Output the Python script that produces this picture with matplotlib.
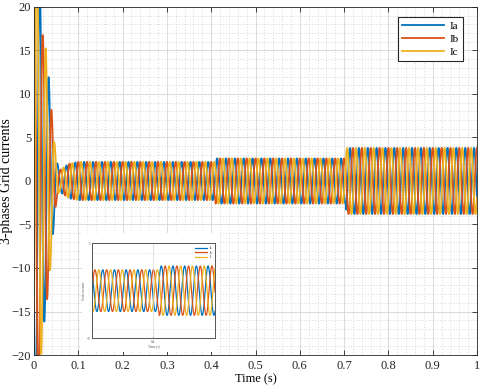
import numpy as np
import matplotlib
matplotlib.use('Agg')
import matplotlib.pyplot as plt
from matplotlib.patches import Rectangle
from matplotlib.ticker import MultipleLocator

plt.rcParams['font.family'] = ['Liberation Serif', 'DejaVu Serif']

f_grid = 50.0
phase_names = ['Ia', 'Ib', 'Ic']
phase_colors = ['#0072BD', '#D95319', '#EDB120']
phase_shift = [2 * np.pi / 3, 0.0, -2 * np.pi / 3]

# envelope of the current peaks (time in s, amplitude in A)
env_t = [0.0, 0.010, 0.020, 0.025, 0.030, 0.036, 0.043, 0.050, 0.057, 0.065, 0.080, 0.100,
         0.409, 0.410, 0.704, 0.705, 1.0]
env_a = [30.0, 26.0, 16.5, 16.0, 13.5, 10.5, 6.0, 2.6, 1.2, 1.5, 2.0, 2.2,
         2.2, 2.6, 2.6, 3.8, 3.8]

t = np.arange(0, 1.0001, 0.0002)
amp = np.interp(t, env_t, env_a)
currents = [amp * np.cos(2 * np.pi * f_grid * t + ph) for ph in phase_shift]

fig = plt.figure(figsize=(4.8, 3.86), dpi=100)
ax = fig.add_axes([0.0708, 0.0803, 0.923, 0.9016])
for y, c, n in zip(currents, phase_colors, phase_names):
    ax.plot(t, y, color=c, lw=1.3, label=n)

ax.set_xlim(0, 1)
ax.set_ylim(-20, 20)
ax.xaxis.set_major_locator(MultipleLocator(0.1))
ax.xaxis.set_minor_locator(MultipleLocator(0.02))
ax.yaxis.set_major_locator(MultipleLocator(5))
ax.yaxis.set_minor_locator(MultipleLocator(1))
ax.set_xticks(np.arange(0, 1.01, 0.1))
ax.set_xticklabels(['0', '0.1', '0.2', '0.3', '0.4', '0.5', '0.6', '0.7', '0.8', '0.9', '1'])
ax.tick_params(which='both', direction='in', top=True, right=True, labelsize=9, colors='#262626')
ax.tick_params(axis='y', pad=2)
ax.tick_params(which='major', length=3.5, width=0.6)
ax.tick_params(which='minor', length=0)
ax.grid(which='major', color='#d6d6d6', lw=0.6, ls='-')
ax.grid(which='minor', color='#b5b5b5', lw=0.5, ls=(0, (1, 3)))
ax.set_axisbelow(True)
for s in ax.spines.values():
    s.set_color('#262626')
    s.set_linewidth(0.6)
ax.set_xlabel('Time (s)', fontsize=9, labelpad=1)
ax.set_ylabel('3-phases Grid currents', fontsize=10)
ax.yaxis.set_label_coords(-0.047, 0.5)

leg = ax.legend(loc='upper right', bbox_to_anchor=(0.968, 0.971), borderaxespad=0,
                fancybox=False, edgecolor='#262626', fontsize=8, handlelength=3.8,
                labelspacing=0.3, borderpad=0.35, handletextpad=0.5, framealpha=1)
leg.get_frame().set_linewidth(0.8)

# white pad behind the zoomed inset
bg = Rectangle((0.171, 0.088), 0.287, 0.308, transform=fig.transFigure,
               facecolor='white', edgecolor='none', zorder=1.5)
fig.add_artist(bg)

axi = fig.add_axes([0.1917, 0.124, 0.256, 0.246])
axi.set_zorder(3)
for y, c, n in zip(currents, phase_colors, phase_names):
    axi.plot(t, y, color=c, lw=0.9, label=n)
axi.set_xlim(0.295, 0.505)
axi.set_ylim(-5, 5)
axi.set_xticks([0.4])
axi.set_yticks([-5, 5])
axi.tick_params(labelsize=2.5, length=1.5, width=0.4, pad=1, direction='in', colors='#555555')
axi.axhline(4, color='#cccccc', lw=0.4, ls=':')
axi.axhline(-4, color='#cccccc', lw=0.4, ls=':')
axi.axvline(0.4, color='#cccccc', lw=0.4)
for s in axi.spines.values():
    s.set_color('#555555')
    s.set_linewidth(0.7)
axi.set_xlabel('Time (s)', fontsize=2.5, labelpad=0.5, color='#555555')
axi.set_ylabel('Grid currents', fontsize=2.5, labelpad=0.5, color='#555555')
axi.legend(loc='upper right', fontsize=2.2, frameon=False, handlelength=4, labelspacing=0.2)

fig.savefig('out.png', dpi=100)
